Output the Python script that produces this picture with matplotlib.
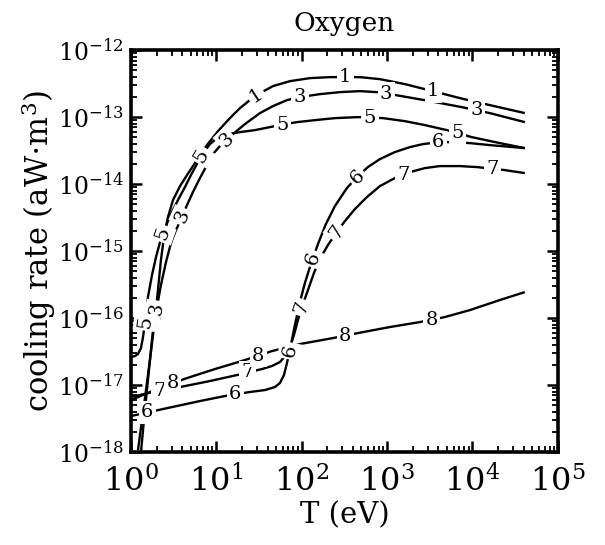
import numpy as np
import matplotlib
matplotlib.use("Agg")
import matplotlib.pyplot as plt
from matplotlib.ticker import LogLocator, NullFormatter

plt.rcParams["font.family"] = ["DejaVu Serif"]
plt.rcParams["mathtext.fontset"] = "dejavuserif"

# log10 of temperature (eV) and log10 of cooling rate for each charge state
c1_logT = [0.082, 0.129, 0.176, 0.222, 0.258, 0.293, 0.316, 0.351, 0.386, 0.433, 0.492, 0.574, 0.656, 0.726, 0.808,
           0.890, 1.019, 1.159, 1.276, 1.393, 1.534, 1.663, 1.862, 2.096, 2.330, 2.506, 2.681, 2.916, 3.208, 3.536,
           3.852, 4.204, 4.614]
c1_logP = [-17.970, -17.522, -17.075, -16.627, -16.254, -15.881, -15.582, -15.134, -14.791, -14.493, -14.239, -14.030,
           -13.866, -13.731, -13.567, -13.418, -13.209, -13.015, -12.866, -12.746, -12.627, -12.537, -12.463, -12.418,
           -12.403, -12.403, -12.403, -12.433, -12.507, -12.612, -12.716, -12.821, -12.940]

c3_logT = [0.117, 0.152, 0.187, 0.222, 0.258, 0.304, 0.351, 0.410, 0.468, 0.527, 0.597, 0.656, 0.726, 0.808, 0.890,
           0.960, 1.042, 1.124, 1.194, 1.335, 1.511, 1.663, 1.827, 1.979, 2.213, 2.447, 2.681, 2.881, 3.033, 3.173,
           3.501, 3.876, 4.204, 4.614]
c3_logP = [-18.000, -17.522, -17.075, -16.627, -16.179, -15.836, -15.507, -15.164, -14.881, -14.687, -14.493, -14.313,
           -14.119, -13.910, -13.716, -13.552, -13.433, -13.343, -13.254, -13.104, -12.940, -12.836, -12.746, -12.701,
           -12.657, -12.627, -12.612, -12.627, -12.657, -12.687, -12.761, -12.851, -12.940, -13.075]

c5_logT = [0.0, 0.047, 0.082, 0.117, 0.141, 0.164, 0.199, 0.246, 0.293, 0.340, 0.398, 0.468, 0.550, 0.632, 0.714,
           0.785, 0.855, 0.925, 1.007, 1.136, 1.276, 1.452, 1.628, 1.803, 1.944, 2.155, 2.389, 2.658, 2.951, 3.208,
           3.443, 3.700, 3.993, 4.321, 4.614]
c5_logP = [-16.582, -16.567, -16.537, -16.448, -16.284, -16.060, -15.687, -15.358, -15.090, -14.866, -14.657, -14.448,
           -14.239, -14.045, -13.836, -13.672, -13.522, -13.403, -13.313, -13.254, -13.224, -13.194, -13.149, -13.104,
           -13.075, -13.045, -13.015, -13.000, -13.015, -13.060, -13.119, -13.194, -13.299, -13.388, -13.463]

c6_logT = [0.0, 0.375, 0.808, 1.159, 1.393, 1.569, 1.686, 1.745, 1.792, 1.827, 1.862, 1.885, 1.920, 1.979, 2.037,
           2.096, 2.190, 2.283, 2.389, 2.529, 2.646, 2.775, 2.916, 3.091, 3.267, 3.419, 3.618, 3.759, 3.970, 4.204,
           4.614]
c6_logP = [-17.463, -17.358, -17.239, -17.149, -17.104, -17.075, -17.030, -16.970, -16.851, -16.672, -16.478, -16.328,
           -16.104, -15.761, -15.478, -15.239, -14.896, -14.597, -14.328, -14.060, -13.896, -13.746, -13.627, -13.522,
           -13.448, -13.403, -13.373, -13.373, -13.388, -13.418, -13.463]

c7_logT = [0.0, 0.304, 0.574, 0.925, 1.241, 1.534, 1.651, 1.745, 1.815, 1.862, 1.909, 1.956, 2.002, 2.073, 2.143,
           2.213, 2.307, 2.412, 2.506, 2.623, 2.763, 2.916, 3.091, 3.267, 3.443, 3.618, 3.852, 4.052, 4.380, 4.614]
c7_logP = [-17.179, -17.090, -17.030, -16.940, -16.851, -16.761, -16.716, -16.657, -16.552, -16.433, -16.254, -16.030,
           -15.836, -15.582, -15.328, -15.119, -14.910, -14.716, -14.552, -14.373, -14.194, -14.030, -13.910, -13.821,
           -13.761, -13.731, -13.731, -13.746, -13.791, -13.836]

c8_logT = [0.0, 0.222, 0.492, 0.656, 0.984, 1.335, 1.651, 1.979, 2.365, 2.658, 3.033, 3.384, 3.677, 3.970, 4.321,
           4.614]
c8_logP = [-17.224, -17.104, -16.970, -16.896, -16.761, -16.627, -16.493, -16.388, -16.299, -16.224, -16.134, -16.060,
           -15.985, -15.881, -15.731, -15.612]

# where each curve carries its inline number (log10 T)
c1_labels = [0.29, 1.47, 2.51, 3.54]
c3_labels = [0.30, 0.60, 1.12, 1.98, 2.99, 4.05]
c5_labels = [0.164, 0.375, 0.83, 1.77, 2.80, 3.83]
c6_labels = [0.19, 1.22, 1.86, 2.13, 2.65, 3.60]
c7_labels = [0.34, 1.37, 2.0, 2.41, 3.19, 4.23]
c8_labels = [0.49, 1.49, 2.51, 3.52]

curves = [
    ("1", c1_logT, c1_logP, c1_labels),
    ("3", c3_logT, c3_logP, c3_labels),
    ("5", c5_logT, c5_logP, c5_labels),
    ("6", c6_logT, c6_logP, c6_labels),
    ("7", c7_logT, c7_logP, c7_labels),
    ("8", c8_logT, c8_logP, c8_labels),
]

fig = plt.figure(figsize=(6.05, 5.45), dpi=100)
ax = fig.add_axes([0.2165, 0.1706, 0.922 - 0.2165, 0.908 - 0.1706])
ax.set_xscale("log")
ax.set_yscale("log")
ax.set_xlim(1, 1e5)
ax.set_ylim(1e-18, 1e-12)

for name, lt, lp, labs in curves:
    T = 10 ** np.asarray(lt)
    P = 10 ** np.asarray(lp)
    ax.plot(T, P, color="black", lw=1.7, solid_capstyle="butt", solid_joinstyle="round", zorder=2)

# inline curve numbers, each breaking its line and following the local slope
fig.canvas.draw()
for name, lt, lp, labs in curves:
    lt = np.asarray(lt)
    lp = np.asarray(lp)
    for x in labs:
        y = np.interp(x, lt, lp)
        d = 0.04
        p0 = ax.transData.transform((10 ** (x - d), 10 ** np.interp(x - d, lt, lp)))
        p1 = ax.transData.transform((10 ** (x + d), 10 ** np.interp(x + d, lt, lp)))
        ang = np.degrees(np.arctan2(p1[1] - p0[1], p1[0] - p0[0]))
        if ang > 90:
            ang -= 180
        if abs(ang) < 25:
            ang = 0
        ax.text(10 ** x, 10 ** y, name, rotation=ang, ha="center", va="center",
                fontsize=14, rotation_mode="anchor", zorder=3,
                bbox=dict(boxstyle="square,pad=0.12", fc="white", ec="none"))

for s in ax.spines.values():
    s.set_linewidth(2.6)

ax.xaxis.set_major_locator(LogLocator(base=10, numticks=10))
ax.xaxis.set_minor_locator(LogLocator(base=10, subs=np.arange(2, 10), numticks=20))
ax.yaxis.set_major_locator(LogLocator(base=10, numticks=10))
ax.yaxis.set_minor_locator(LogLocator(base=10, subs=np.arange(2, 10), numticks=20))
ax.xaxis.set_minor_formatter(NullFormatter())
ax.yaxis.set_minor_formatter(NullFormatter())
ax.xaxis.get_offset_text().set_visible(False)
ax.yaxis.get_offset_text().set_visible(False)
ax.tick_params(which="both", direction="in", top=True, right=True)
ax.tick_params(which="major", length=8, width=1.8)
ax.tick_params(which="minor", length=4, width=1.3)
ax.tick_params(axis="x", which="major", labelsize=23, pad=10)
ax.tick_params(axis="y", which="major", labelsize=17, pad=5)

ax.set_title("Oxygen", fontsize=19, pad=14)
ax.set_xlabel("T (eV)", fontsize=21, labelpad=2)
ax.set_ylabel("cooling rate (aW$\\cdot$m$^3$)", fontsize=22, labelpad=0)

fig.savefig("out.png", dpi=100)
